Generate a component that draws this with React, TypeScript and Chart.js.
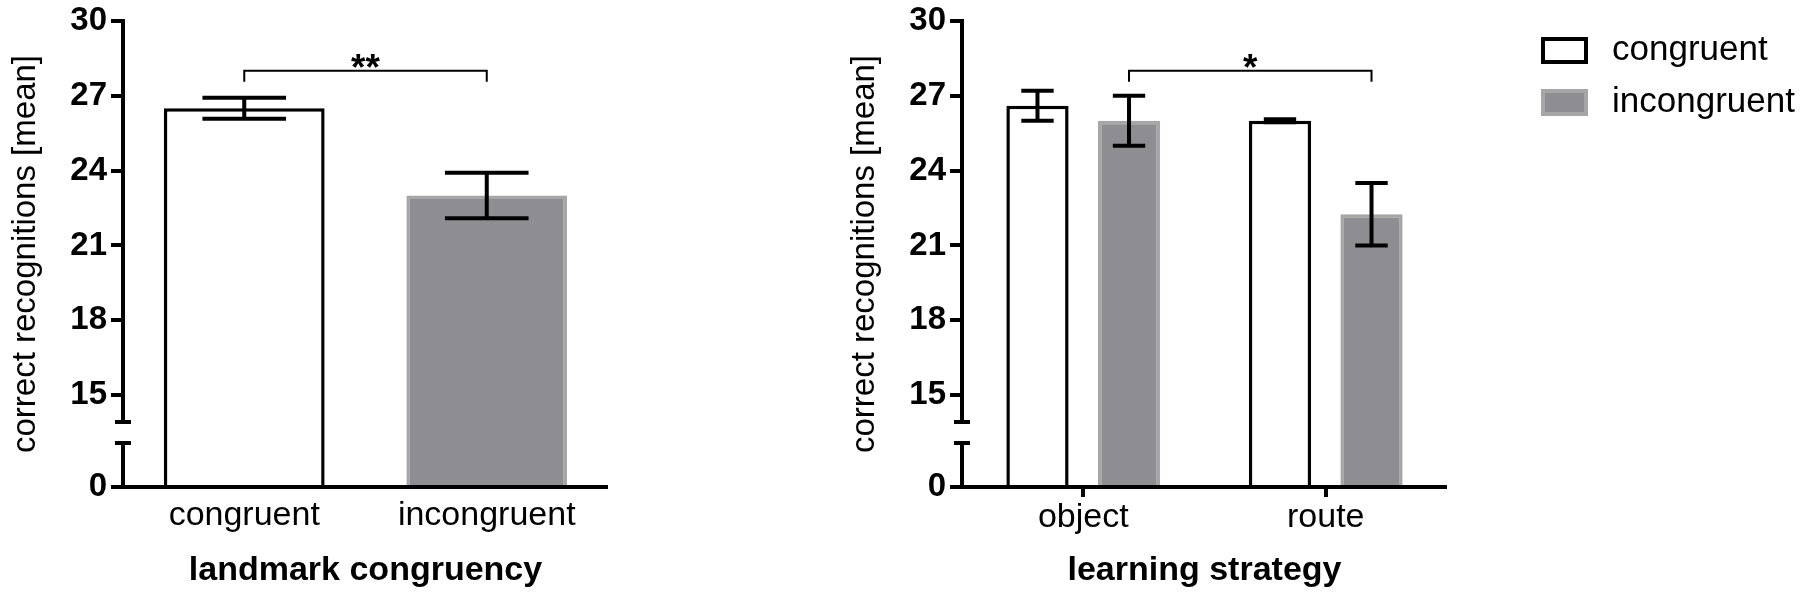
import React, { useEffect, useRef } from 'react';
import { Chart, registerables, LinearScale } from 'chart.js';

// ---------------- data ----------------
const axisTicks = [0, 15, 18, 21, 24, 27, 30];
const yTitle = 'correct recognitions [mean]';

const leftCategories = ['congruent', 'incongruent'];
const leftMeans = [26.5, 23.0];
const leftErrors = [0.42, 0.91];
const leftTitle = 'landmark congruency';

const rightCategories = ['object', 'route'];
const seriesNames = ['congruent', 'incongruent'];
const congruentMeans = [26.6, 26.0];
const congruentErrors = [0.6, 0.06];
const incongruentMeans = [26.0, 22.25];
const incongruentErrors = [1.0, 1.25];
const rightTitle = 'learning strategy';

// brackets: [datasetIndex, barIndex] -> [datasetIndex, barIndex], label
const leftBrackets = [{ from: [0, 0], to: [0, 1], label: '**' }];
const rightBrackets = [{ from: [1, 0], to: [1, 1], label: '*' }];

// ---------------- style ----------------
const FONT = "'Liberation Sans', Arial, Helvetica, sans-serif";
const BLACK = '#000000';
const WHITE_FILL = '#ffffff';
const GRAY_FILL = '#8e8e92';
const GRAY_BORDER = '#a6a6a6';
const LINE = 4;
const BAR_BORDER = 3.5;
const H = 596;
const Y_AXIS_WIDTH = 123;
const X_AXIS_HEIGHT = 109;
const PLOT_TOP = 21;
const PLOT_WIDTH = 485;

// broken axis geometry (fractions of the axis height, from the bottom)
const BREAK_LOW = 6;
const BREAK_HIGH = 13.92;
const LOW_FRAC = 0.0944;
const UPPER_START = 15;
const UPPER_START_FRAC = 0.1974;
const BREAK_CAP = 8;
const BRACKET_VALUE = 28.0;

function upperFrac(v: number, max: number) {
  return UPPER_START_FRAC + ((v - UPPER_START) * (1 - UPPER_START_FRAC)) / (max - UPPER_START);
}

class BrokenScale extends LinearScale {
  static id = 'broken';
  static defaults = LinearScale.defaults;
  frac(v: number) {
    const max = (this as any).max;
    if (v >= BREAK_HIGH) return upperFrac(v, max);
    if (v <= BREAK_LOW) return (v / BREAK_LOW) * LOW_FRAC;
    const fh = upperFrac(BREAK_HIGH, max);
    return LOW_FRAC + ((v - BREAK_LOW) * (fh - LOW_FRAC)) / (BREAK_HIGH - BREAK_LOW);
  }
  getPixelForValue(value: any) {
    if (value === null || value === undefined || isNaN(value)) return NaN;
    const s: any = this;
    return s.bottom - this.frac(+value) * (s.bottom - s.top);
  }
  getValueForPixel(pixel: number) {
    const s: any = this;
    const f = (s.bottom - pixel) / (s.bottom - s.top);
    const max = s.max;
    const fh = upperFrac(BREAK_HIGH, max);
    if (f >= fh) return UPPER_START + ((f - UPPER_START_FRAC) * (max - UPPER_START)) / (1 - UPPER_START_FRAC);
    if (f <= LOW_FRAC) return (f / LOW_FRAC) * BREAK_LOW;
    return BREAK_LOW + ((f - LOW_FRAC) * (BREAK_HIGH - BREAK_LOW)) / (fh - LOW_FRAC);
  }
}

Chart.register(...registerables, BrokenScale as any);

// ---------------- plugins ----------------
const brokenAxisPlugin = {
  id: 'brokenAxis',
  afterDatasetsDraw(chart: any) {
    const { ctx, chartArea, scales } = chart;
    const y = scales.y;
    const x0 = chartArea.left;
    const yTop = y.getPixelForValue(axisTicks[axisTicks.length - 1]);
    const yHi = y.getPixelForValue(BREAK_HIGH);
    const yLo = y.getPixelForValue(BREAK_LOW);
    const y0 = y.getPixelForValue(0);
    ctx.save();
    ctx.strokeStyle = BLACK;
    ctx.lineWidth = LINE;
    ctx.lineCap = 'butt';
    ctx.beginPath();
    ctx.moveTo(x0, yTop - LINE / 2);
    ctx.lineTo(x0, yHi);
    ctx.moveTo(x0 - BREAK_CAP, yHi);
    ctx.lineTo(x0 + BREAK_CAP, yHi);
    ctx.moveTo(x0 - BREAK_CAP, yLo);
    ctx.lineTo(x0 + BREAK_CAP, yLo);
    ctx.moveTo(x0, yLo);
    ctx.lineTo(x0, y0);
    ctx.moveTo(x0 - LINE / 2, y0);
    ctx.lineTo(chartArea.right, y0);
    ctx.stroke();
    ctx.restore();
  },
};

const errorBarPlugin = {
  id: 'errorBars',
  afterDatasetsDraw(chart: any) {
    const { ctx, scales } = chart;
    const y = scales.y;
    ctx.save();
    ctx.strokeStyle = BLACK;
    ctx.lineWidth = LINE;
    ctx.lineCap = 'butt';
    chart.data.datasets.forEach((ds: any, di: number) => {
      const meta = chart.getDatasetMeta(di);
      meta.data.forEach((el: any, i: number) => {
        const mean = ds.data[i];
        const err = ds.errorBars[i];
        const yHi = y.getPixelForValue(mean + err);
        const yLo = y.getPixelForValue(mean - err);
        const half = el.width * 0.26;
        ctx.beginPath();
        ctx.moveTo(el.x, yHi);
        ctx.lineTo(el.x, yLo);
        ctx.moveTo(el.x - half, yHi);
        ctx.lineTo(el.x + half, yHi);
        ctx.moveTo(el.x - half, yLo);
        ctx.lineTo(el.x + half, yLo);
        ctx.stroke();
      });
    });
    ctx.restore();
  },
};

function bracketPlugin(brackets: any[]) {
  return {
    id: 'brackets',
    afterDatasetsDraw(chart: any) {
      const { ctx, scales } = chart;
      const yy = scales.y.getPixelForValue(BRACKET_VALUE);
      ctx.save();
      brackets.forEach((b) => {
        const a = chart.getDatasetMeta(b.from[0]).data[b.from[1]];
        const c = chart.getDatasetMeta(b.to[0]).data[b.to[1]];
        ctx.strokeStyle = BLACK;
        ctx.lineWidth = 2;
        ctx.beginPath();
        ctx.moveTo(a.x, yy + 11);
        ctx.lineTo(a.x, yy);
        ctx.lineTo(c.x, yy);
        ctx.lineTo(c.x, yy + 11);
        ctx.stroke();
        ctx.fillStyle = BLACK;
        ctx.font = `bold 37px ${FONT}`;
        ctx.textAlign = 'center';
        ctx.textBaseline = 'alphabetic';
        ctx.fillText(b.label, (a.x + c.x) / 2, yy + 9);
      });
      ctx.restore();
    },
  };
}

const legendPlugin = {
  id: 'sideLegend',
  afterDraw(chart: any) {
    const { ctx, chartArea } = chart;
    ctx.save();
    chart.data.datasets.forEach((ds: any, i: number) => {
      const x = chartArea.right + 94;
      const top = chartArea.top + 16 + i * 52;
      const w = 47;
      const h = 27;
      ctx.fillStyle = ds.backgroundColor;
      ctx.fillRect(x, top, w, h);
      ctx.strokeStyle = ds.borderColor;
      ctx.lineWidth = LINE;
      ctx.strokeRect(x + LINE / 2, top + LINE / 2, w - LINE, h - LINE);
      ctx.fillStyle = BLACK;
      ctx.font = `35px ${FONT}`;
      ctx.textAlign = 'left';
      ctx.textBaseline = 'middle';
      ctx.fillText(ds.label, x + w + 24, top + h / 2);
    });
    ctx.restore();
  },
};

// ---------------- config ----------------
function makeScales(xTitle: string, xTickMarks: boolean) {
  return {
    x: {
      type: 'category',
      offset: true,
      grid: {
        display: xTickMarks,
        drawOnChartArea: false,
        drawTicks: xTickMarks,
        tickLength: 10,
        lineWidth: LINE,
        color: BLACK,
        offset: false,
      },
      border: { display: false },
      ticks: {
        color: BLACK,
        font: { family: FONT, size: 34 },
        padding: xTickMarks ? 0 : 8,
        maxRotation: 0,
        autoSkip: false,
      },
      title: {
        display: true,
        text: xTitle,
        color: BLACK,
        font: { family: FONT, size: 34, weight: 'bold' },
        padding: { top: 0, bottom: 5 },
      },
      afterFit: (s: any) => {
        s.height = X_AXIS_HEIGHT;
      },
    },
    y: {
      type: 'broken',
      min: 0,
      max: axisTicks[axisTicks.length - 1],
      afterBuildTicks: (s: any) => {
        s.ticks = axisTicks.map((v) => ({ value: v }));
      },
      grid: {
        display: true,
        drawOnChartArea: false,
        drawTicks: true,
        tickLength: 12,
        lineWidth: LINE,
        color: BLACK,
      },
      border: { display: false },
      ticks: {
        color: BLACK,
        font: { family: FONT, size: 33, weight: 'bold', lineHeight: 1 },
        padding: 4,
        autoSkip: false,
        callback: (v: any) => String(v),
      },
      title: {
        display: true,
        text: yTitle,
        color: BLACK,
        font: { family: FONT, size: 33 },
        padding: { top: 6, bottom: 0 },
      },
      afterFit: (s: any) => {
        s.width = Y_AXIS_WIDTH;
      },
    },
  };
}

function leftConfig(canvasWidth: number): any {
  return {
    type: 'bar',
    data: {
      labels: leftCategories,
      datasets: [
        {
          label: leftTitle,
          data: leftMeans,
          errorBars: leftErrors,
          backgroundColor: [WHITE_FILL, GRAY_FILL],
          borderColor: [BLACK, GRAY_BORDER],
          borderWidth: BAR_BORDER,
          borderSkipped: 'start',
          categoryPercentage: 1,
          barPercentage: 0.663,
        },
      ],
    },
    options: {
      responsive: false,
      animation: false,
      layout: { padding: { top: PLOT_TOP, left: 0, bottom: 0, right: canvasWidth - Y_AXIS_WIDTH - PLOT_WIDTH } },
      plugins: { legend: { display: false }, tooltip: { enabled: false } },
      scales: makeScales(leftTitle, false),
    },
    plugins: [errorBarPlugin, brokenAxisPlugin, bracketPlugin(leftBrackets)],
  };
}

function rightConfig(canvasWidth: number): any {
  return {
    type: 'bar',
    data: {
      labels: rightCategories,
      datasets: [
        {
          label: seriesNames[0],
          data: congruentMeans,
          errorBars: congruentErrors,
          backgroundColor: WHITE_FILL,
          borderColor: BLACK,
          borderWidth: BAR_BORDER,
          borderSkipped: 'start',
          categoryPercentage: 0.755,
          barPercentage: 0.68,
        },
        {
          label: seriesNames[1],
          data: incongruentMeans,
          errorBars: incongruentErrors,
          backgroundColor: GRAY_FILL,
          borderColor: GRAY_BORDER,
          borderWidth: BAR_BORDER,
          borderSkipped: 'start',
          categoryPercentage: 0.755,
          barPercentage: 0.68,
        },
      ],
    },
    options: {
      responsive: false,
      animation: false,
      layout: { padding: { top: PLOT_TOP, left: 0, bottom: 0, right: canvasWidth - Y_AXIS_WIDTH - PLOT_WIDTH } },
      plugins: { legend: { display: false }, tooltip: { enabled: false } },
      scales: makeScales(rightTitle, true),
    },
    plugins: [errorBarPlugin, brokenAxisPlugin, bracketPlugin(rightBrackets), legendPlugin],
  };
}

function Panel({ left, width, make }: { left: number; width: number; make: (w: number) => any }) {
  const ref = useRef<HTMLCanvasElement>(null);
  useEffect(() => {
    const chart = new Chart(ref.current as HTMLCanvasElement, make(width));
    return () => chart.destroy();
  }, []);
  return (
    <canvas
      ref={ref}
      width={width}
      height={H}
      style={{ position: 'absolute', left, top: 0, width, height: H, display: 'block' }}
    />
  );
}

export default function App() {
  return (
    <div style={{ position: 'absolute', left: 0, top: 0, width: 1800, height: H, background: '#ffffff', overflow: 'hidden' }}>
      <Panel left={0} width={700} make={leftConfig} />
      <Panel left={839} width={961} make={rightConfig} />
    </div>
  );
}
